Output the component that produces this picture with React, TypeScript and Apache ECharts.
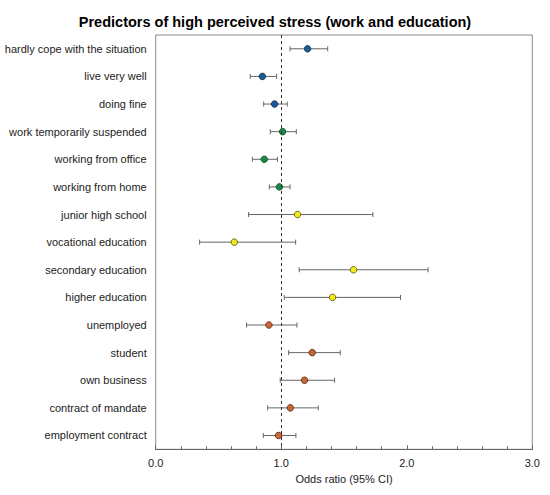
import React, { useEffect, useRef } from "react";
import * as echarts from "echarts";

const categories = [
  "hardly cope with the situation",
  "live very well",
  "doing fine",
  "work temporarily suspended",
  "working from office",
  "working from home",
  "junior high school",
  "vocational education",
  "secondary education",
  "higher education",
  "unemployed",
  "student",
  "own business",
  "contract of mandate",
  "employment contract",
];
const oddsRatio = [1.21, 0.85, 0.947, 1.011, 0.865, 0.985, 1.13, 0.626, 1.576, 1.409, 0.902, 1.247, 1.186, 1.072, 0.979];
const ciLow = [1.07, 0.753, 0.86, 0.913, 0.77, 0.905, 0.74, 0.35, 1.143, 1.024, 0.724, 1.059, 0.992, 0.892, 0.857];
const ciHigh = [1.37, 0.963, 1.048, 1.12, 0.97, 1.07, 1.73, 1.115, 2.17, 1.95, 1.125, 1.47, 1.425, 1.295, 1.117];
const group = [0, 0, 0, 1, 1, 1, 2, 2, 2, 2, 3, 3, 3, 3, 3];
const xTicks = [0, 1, 2, 3];

const fills = ["#1c5a94", "#1a8a4a", "#f4ea17", "#c9663a"];
const borders = ["#143f66", "#135c32", "#6b6a1e", "#6e3519"];
const FONT = "'Liberation Sans', Arial, sans-serif";

export default function App() {
  const ref = useRef<HTMLDivElement>(null);
  useEffect(() => {
    if (!ref.current) return;
    const chart = echarts.init(ref.current, undefined, { renderer: "svg" });
    const errData = categories.map((c, i) => [ciLow[i], ciHigh[i], i]);
    const ptData = categories.map((c, i) => ({
      value: [oddsRatio[i], i],
      itemStyle: { color: fills[group[i]], borderColor: borders[group[i]], borderWidth: 1, opacity: 1 },
    }));
    chart.setOption({
      animation: false,
      backgroundColor: "#fff",
      title: {
        text: "Predictors of high perceived stress (work and education)",
        left: "center",
        top: 9,
        textStyle: { fontFamily: FONT, fontSize: 14.5, fontWeight: "bold", color: "#000" },
      },
      grid: {
        left: 155.7,
        right: 17.7,
        top: 35,
        bottom: 45.7,
        show: true,
        borderColor: "#8a8a8a",
        borderWidth: 1,
      },
      xAxis: {
        type: "value",
        min: xTicks[0],
        max: xTicks[xTicks.length - 1],
        interval: 1,
        name: "Odds ratio (95% CI)",
        nameLocation: "middle",
        nameGap: 21,
        nameTextStyle: { fontFamily: FONT, fontSize: 11, color: "#222" },
        axisLine: { show: true, lineStyle: { color: "#666", width: 1 } },
        axisTick: { show: true, inside: true, length: 4, lineStyle: { color: "#666" } },
        minorTick: { show: true, splitNumber: 5, length: 3, lineStyle: { color: "#666" } },
        splitLine: { show: false },
        axisLabel: {
          fontFamily: FONT,
          fontSize: 11,
          color: "#222",
          margin: 8,
          formatter: (v: number) => v.toFixed(1),
        },
      },
      yAxis: {
        type: "category",
        inverse: true,
        data: categories,
        axisLine: { show: false },
        axisTick: { show: false },
        splitLine: { show: false },
        axisLabel: { fontFamily: FONT, fontSize: 11, color: "#222", margin: 9 },
      },
      series: [
        {
          type: "custom",
          data: errData,
          encode: { x: [0, 1], y: 2 },
          renderItem: (params: any, api: any) => {
            const lo = api.coord([api.value(0), api.value(2)]);
            const hi = api.coord([api.value(1), api.value(2)]);
            const h = 2.5;
            const style = { stroke: "#666", lineWidth: 1 };
            return {
              type: "group",
              children: [
                { type: "line", shape: { x1: lo[0], y1: lo[1], x2: hi[0], y2: hi[1] }, style },
                { type: "line", shape: { x1: lo[0], y1: lo[1] - h, x2: lo[0], y2: lo[1] + h }, style },
                { type: "line", shape: { x1: hi[0], y1: hi[1] - h, x2: hi[0], y2: hi[1] + h }, style },
              ],
            };
          },
          z: 2,
        },
        {
          type: "scatter",
          data: ptData,
          symbol: "circle",
          symbolSize: 6.5,
          z: 3,
          markLine: {
            silent: true,
            symbol: ["none", "none"],
            label: { show: false },
            lineStyle: { type: [3, 3], color: "#333", width: 1 },
            data: [{ xAxis: 1 }],
          },
        },
      ],
    });
    return () => chart.dispose();
  }, []);
  return (
    <div
      ref={ref}
      style={{ position: "absolute", left: 0, top: 0, width: 550, height: 495 }}
    />
  );
}
